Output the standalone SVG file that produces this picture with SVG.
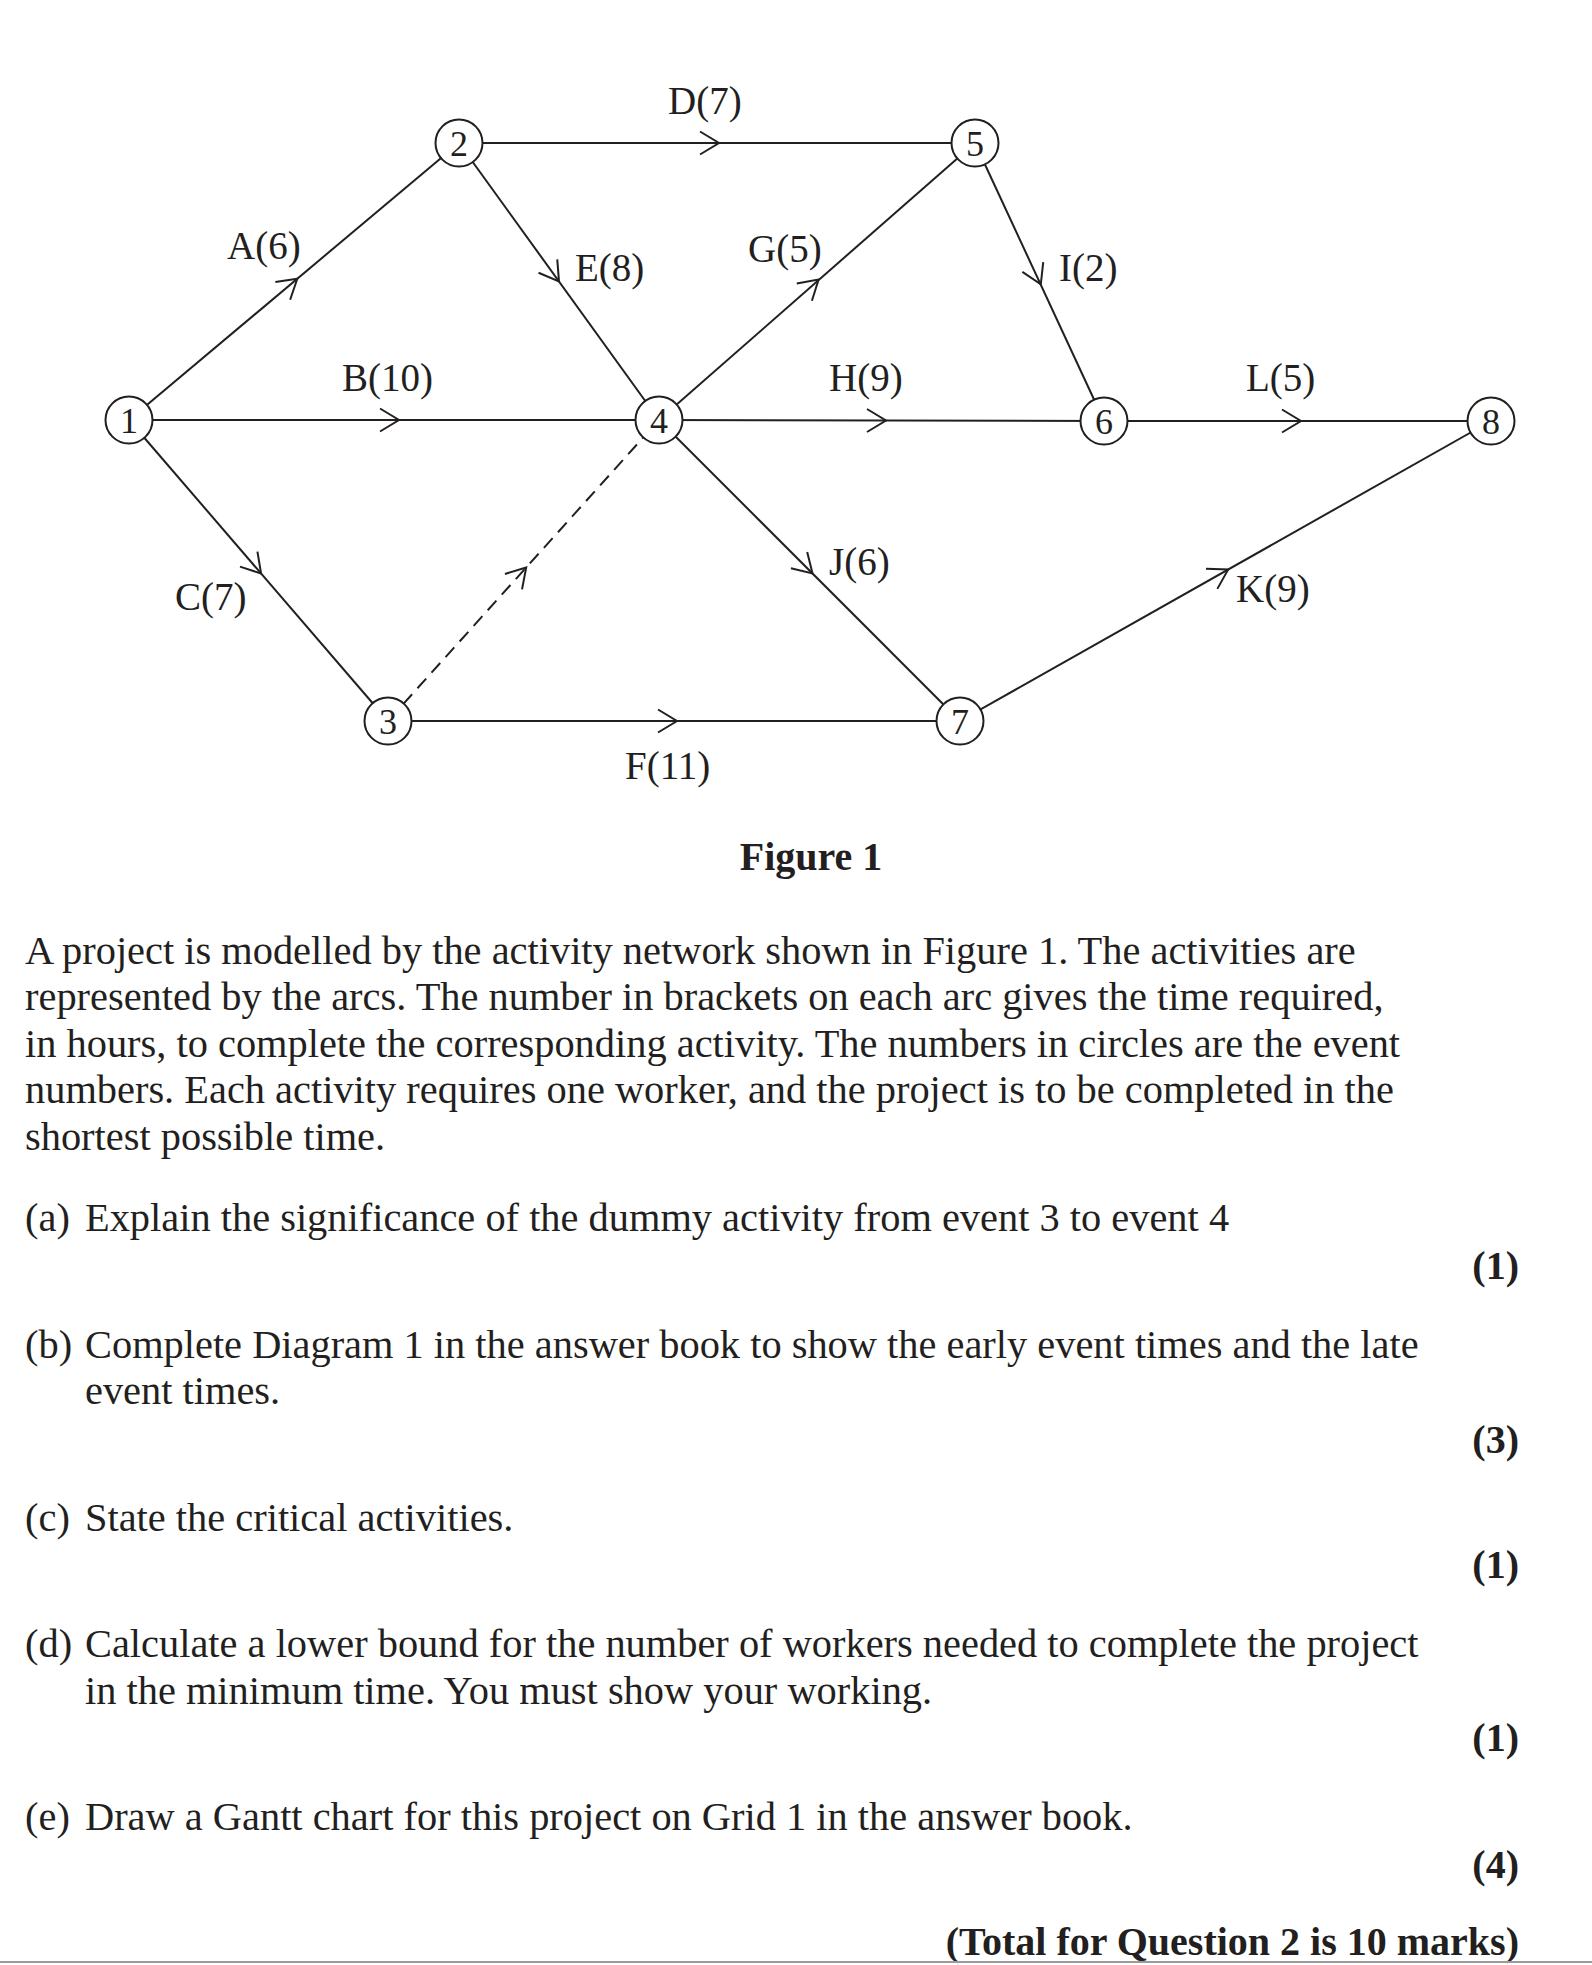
<svg xmlns="http://www.w3.org/2000/svg" xmlns:xlink="http://www.w3.org/1999/xlink" width="1592" height="1965" viewBox="0 0 1592 1965">
<style>
.arc{stroke:#231f20;stroke-width:2;fill:none}
.dash{stroke:#231f20;stroke-width:2;fill:none;stroke-dasharray:13 8}
.chev{stroke:#231f20;stroke-width:2;fill:none;stroke-linejoin:miter}
.node circle{fill:#fff;stroke:#231f20;stroke-width:2}
.node text{font-family:"Liberation Serif","Times New Roman",serif;font-size:36px;fill:#231f20;text-anchor:middle}
.lbl{font-family:"Liberation Serif","Times New Roman",serif;font-size:39px;fill:#231f20}
.body{font-family:"Liberation Serif","Times New Roman",serif;font-size:40.4px;fill:#231f20}
.bold{font-family:"Liberation Serif","Times New Roman",serif;font-size:40px;font-weight:bold;fill:#231f20}
.mark{font-family:"Liberation Serif","Times New Roman",serif;font-size:40px;font-weight:bold;fill:#231f20;text-anchor:end}
</style>
<defs>
<path id="chev" class="chev" d="M-19,-11.5 L0,0 L-19,11.5"/>
</defs>
<rect width="1592" height="1965" fill="#fff"/>
<g id="connectors">
<line class="arc" x1="129" y1="420" x2="459" y2="143"/>
<line class="arc" x1="129" y1="420" x2="659" y2="420"/>
<line class="arc" x1="129" y1="420" x2="388" y2="721"/>
<line class="dash" x1="403.4" y1="703.9" x2="643.6" y2="437.1"/>
<line class="arc" x1="459" y1="143" x2="975" y2="143"/>
<line class="arc" x1="459" y1="143" x2="659" y2="420"/>
<line class="arc" x1="659" y1="420" x2="975" y2="143"/>
<line class="arc" x1="659" y1="420" x2="1104" y2="421"/>
<line class="arc" x1="975" y1="143" x2="1104" y2="421"/>
<line class="arc" x1="1104" y1="421" x2="1491" y2="421"/>
<line class="arc" x1="659" y1="420" x2="960" y2="721"/>
<line class="arc" x1="388" y1="721" x2="960" y2="721"/>
<line class="arc" x1="960" y1="721" x2="1491" y2="421"/>
<use xlink:href="#chev" href="#chev" transform="translate(297.3,278.7) rotate(-40)"/>
<use xlink:href="#chev" href="#chev" transform="translate(399,420)"/>
<use xlink:href="#chev" href="#chev" transform="translate(261.1,573.5) rotate(49.3)"/>
<use xlink:href="#chev" href="#chev" transform="translate(526.2,567.5) rotate(-48)"/>
<use xlink:href="#chev" href="#chev" transform="translate(719,143)"/>
<use xlink:href="#chev" href="#chev" transform="translate(559,281.5) rotate(54.3)"/>
<use xlink:href="#chev" href="#chev" transform="translate(818.6,279.6) rotate(-41.3)"/>
<use xlink:href="#chev" href="#chev" transform="translate(886,420.5)"/>
<use xlink:href="#chev" href="#chev" transform="translate(1040.8,284.3) rotate(65.1)"/>
<use xlink:href="#chev" href="#chev" transform="translate(1301,421)"/>
<use xlink:href="#chev" href="#chev" transform="translate(812.5,573.5) rotate(45)"/>
<use xlink:href="#chev" href="#chev" transform="translate(677,721)"/>
<use xlink:href="#chev" href="#chev" transform="translate(1228.2,569.5) rotate(-29.5)"/>
</g>
<g id="labels">
<text class="lbl" x="668" y="114">D(7)</text>
<text class="lbl" x="227" y="259">A(6)</text>
<text class="lbl" x="575" y="281">E(8)</text>
<text class="lbl" x="748" y="262">G(5)</text>
<text class="lbl" x="1059" y="281">I(2)</text>
<text class="lbl" x="342" y="391">B(10)</text>
<text class="lbl" x="829" y="391">H(9)</text>
<text class="lbl" x="1246" y="391">L(5)</text>
<text class="lbl" x="829" y="575">J(6)</text>
<text class="lbl" x="175" y="610">C(7)</text>
<text class="lbl" x="1236" y="602">K(9)</text>
<text class="lbl" x="625" y="779">F(11)</text>
</g>
<g id="node1" class="node"><circle cx="129" cy="420" r="23.5"/><text x="129" y="433">1</text></g>
<g id="node2" class="node"><circle cx="459" cy="143" r="23.5"/><text x="459" y="156">2</text></g>
<g id="node3" class="node"><circle cx="388" cy="721" r="23.5"/><text x="388" y="734">3</text></g>
<g id="node4" class="node"><circle cx="659" cy="420" r="23.5"/><text x="659" y="433">4</text></g>
<g id="node5" class="node"><circle cx="975" cy="143" r="23.5"/><text x="975" y="156">5</text></g>
<g id="node6" class="node"><circle cx="1104" cy="421" r="23.5"/><text x="1104" y="434">6</text></g>
<g id="node7" class="node"><circle cx="960" cy="721" r="23.5"/><text x="960" y="734">7</text></g>
<g id="node8" class="node"><circle cx="1491" cy="421" r="23.5"/><text x="1491" y="434">8</text></g>
<g id="text">
<text class="bold" x="811" y="870" text-anchor="middle">Figure 1</text>
<text class="body" x="25" y="964">A project is modelled by the activity network shown in Figure 1. The activities are</text>
<text class="body" x="25" y="1010">represented by the arcs. The number in brackets on each arc gives the time required,</text>
<text class="body" x="25" y="1057">in hours, to complete the corresponding activity. The numbers in circles are the event</text>
<text class="body" x="25" y="1103">numbers. Each activity requires one worker, and the project is to be completed in the</text>
<text class="body" x="25" y="1150">shortest possible time.</text>
<text class="body" x="25" y="1231">(a)</text>
<text class="body" x="85" y="1231">Explain the significance of the dummy activity from event 3 to event 4</text>
<text class="mark" x="1519" y="1279">(1)</text>
<text class="body" x="25" y="1358">(b)</text>
<text class="body" x="85" y="1358">Complete Diagram 1 in the answer book to show the early event times and the late</text>
<text class="body" x="85" y="1404">event times.</text>
<text class="mark" x="1519" y="1453">(3)</text>
<text class="body" x="25" y="1531">(c)</text>
<text class="body" x="85" y="1531">State the critical activities.</text>
<text class="mark" x="1519" y="1578">(1)</text>
<text class="body" x="25" y="1657">(d)</text>
<text class="body" x="85" y="1657">Calculate a lower bound for the number of workers needed to complete the project</text>
<text class="body" x="85" y="1704">in the minimum time. You must show your working.</text>
<text class="mark" x="1519" y="1751">(1)</text>
<text class="body" x="25" y="1830">(e)</text>
<text class="body" x="85" y="1830">Draw a Gantt chart for this project on Grid 1 in the answer book.</text>
<text class="mark" x="1519" y="1878">(4)</text>
<text class="mark" x="1519" y="1955">(Total for Question 2 is 10 marks)</text>
</g>
<line x1="0" y1="1962" x2="1592" y2="1962" stroke="#9a9a9a" stroke-width="2"/>
</svg>
